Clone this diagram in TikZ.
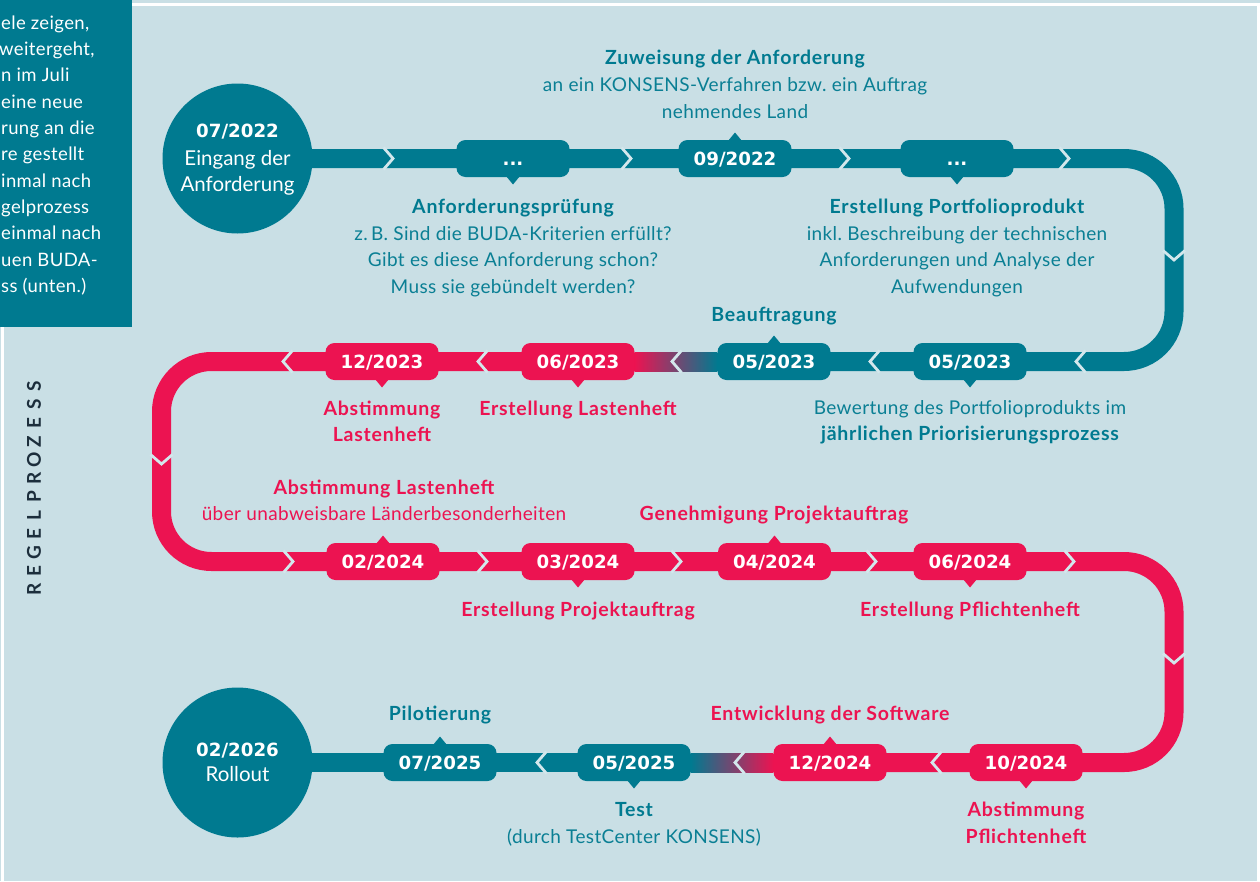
\documentclass[tikz,border=0pt]{standalone}
\usepackage{fontspec}
\setmainfont{Lato}
\newfontfamily\dfont{DejaVu Sans}
\newfontfamily\hfont[LetterSpace=4]{Lato}
\newfontfamily\bfont[LetterSpace=2]{Lato}
\frenchspacing
\pgfdeclarelayer{back}
\pgfdeclarelayer{track}
\pgfsetlayers{back,track,main}
\definecolor{bgc}{HTML}{C9DFE5}
\definecolor{chevc}{HTML}{D3E7EC}
\definecolor{tealc}{HTML}{007A90}
\definecolor{pinkc}{HTML}{EC1351}
\definecolor{tealtx}{HTML}{0A7F94}
\definecolor{navy}{HTML}{1C2E3C}
\tikzset{
  datebox/.style={rectangle, rounded corners=9pt, minimum width=113pt, minimum height=37pt,
    inner sep=0pt, text height=13.2pt, text depth=0pt, text=white,
    font=\dfont\bfseries\fontsize{18.2}{20}\selectfont},
  trk/.style={line width=19pt, line cap=butt},
  chev/.style={draw=chevc, line width=2.8pt},
  hdT/.style={anchor=base, text=tealc, font=\hfont\bfseries\fontsize{19.5}{22}\selectfont, inner sep=0pt},
  txT/.style={anchor=base, text=tealtx, font=\bfont\fontsize{19}{22}\selectfont, inner sep=0pt},
  hdP/.style={anchor=base, text=pinkc, font=\hfont\bfseries\fontsize{19.5}{22}\selectfont, inner sep=0pt},
  txP/.style={anchor=base, text=pinkc, font=\bfont\fontsize{19}{22}\selectfont, inner sep=0pt},
  cdate/.style={anchor=base, text=white, font=\dfont\bfseries\fontsize{18.2}{20}\selectfont, inner sep=0pt},
  ctext/.style={anchor=base, text=white, font=\fontsize{20.5}{24}\selectfont, inner sep=0pt},
  sidetxt/.style={anchor=base west, text=white, font=\bfont\fontsize{18.5}{22}\selectfont, inner sep=0pt},
  rpl/.style={rotate=90, text=navy, font=\bfseries\fontsize{19}{20}\selectfont, inner sep=0pt},
}
\newcommand\mkbox[6]{%
  \node[datebox, fill=#5] (#1) at (#2,#3) {#4};
  \fill[#5] ({#2-7},{#3+17.5*(#6)}) -- ({#2},{#3+26*(#6)}) -- ({#2+7},{#3+17.5*(#6)}) -- cycle;
}
\newcommand\chR[2]{\draw[chev] ({#1-9.5},{#2-11}) -- (#1,#2) -- ({#1-9.5},{#2+11});}
\newcommand\chL[2]{\draw[chev] ({#1+9.5},{#2-11}) -- (#1,#2) -- ({#1+9.5},{#2+11});}
\newcommand\chD[2]{\draw[chev] ({#1-11},{#2-9.5}) -- (#1,#2) -- ({#1+11},{#2-9.5});}
\begin{document}
\begin{tikzpicture}[x=1pt,y=-1pt]
\useasboundingbox (0,0) rectangle (1260,881);
\begin{pgfonlayer}{back}
  \fill[bgc] (0,0) rectangle (1260,881);
  \draw[white, line width=3pt] (132,4.5) -- (1260,4.5);
  \draw[white, line width=2.5pt] (1258.7,4.5) -- (1258.7,881);
  \draw[white, line width=2.5pt] (2.7,327) -- (2.7,881);
  \fill[tealc] (0,0) rectangle (132,327);
\end{pgfonlayer}

% side text (cut off on the left)
\node[sidetxt] (s1) at (1,29.3) {ele zeigen,};
\node[sidetxt] (s2) at (-1,55.6) {weitergeht,};
\node[sidetxt] (s3) at (1,81.9) {n im Juli};
\node[sidetxt] (s4) at (1,108.2) {eine neue};
\node[sidetxt] (s5) at (1,134.5) {rung an die};
\node[sidetxt] (s6) at (1,160.8) {re gestellt};
\node[sidetxt] (s7) at (1,187.1) {inmal nach};
\node[sidetxt] (s8) at (1,213.4) {gelprozess};
\node[sidetxt] (s9) at (1,239.7) {einmal nach};
\node[sidetxt] (s10) at (1,266.0) {uen BUDA-};
\node[sidetxt] (s11) at (1,292.3) {ss (unten.)};

% REGELPROZESS
\foreach \l [count=\i from 0] in {R,E,G,E,L,P,R,O,Z,E,S,S}
  \node[rpl] (rp\i) at (34,{589.5-18.5*\i}) {\l};

% circles
\node[circle, fill=tealc, minimum size=150pt, inner sep=0pt] (c1) at (237.5,158.5) {};
\node[cdate] (c1a) at (237.5,137.7) {07/2022};
\node[ctext] (c1b) at (237.5,165) {Eingang der};
\node[ctext] (c1c) at (237.5,191.7) {Anforderung};
\node[circle, fill=tealc, minimum size=150pt, inner sep=0pt] (c2) at (237.5,762.5) {};
\node[cdate] (c2a) at (237.5,756) {02/2026};
\node[ctext] (c2b) at (237.5,781.7) {Rollout};

% date boxes
\mkbox{bd1}{513}{158.5}{...}{tealc}{1}
\mkbox{b0922}{735}{158.5}{09/2022}{tealc}{-1}
\mkbox{bd2}{957}{158.5}{...}{tealc}{1}
\mkbox{b0523b}{970}{361.5}{05/2023}{tealc}{1}
\mkbox{b0523a}{774}{361.5}{05/2023}{tealc}{-1}
\mkbox{b0623}{578}{361.5}{06/2023}{pinkc}{1}
\mkbox{b1223}{382}{361.5}{12/2023}{pinkc}{1}
\mkbox{b0224}{383}{561.5}{02/2024}{pinkc}{-1}
\mkbox{b0324}{578}{561.5}{03/2024}{pinkc}{1}
\mkbox{b0424}{774.5}{561.5}{04/2024}{pinkc}{-1}
\mkbox{b0624}{970}{561.5}{06/2024}{pinkc}{1}
\mkbox{b1024}{1026}{762.5}{10/2024}{pinkc}{1}
\mkbox{b1224}{830}{762.5}{12/2024}{pinkc}{-1}
\mkbox{b0525}{634}{762.5}{05/2025}{tealc}{1}
\mkbox{b0725}{440}{762.5}{07/2025}{tealc}{-1}

% corner coordinates
\coordinate (k1) at (1174,158.5);
\coordinate (k2) at (1174,361.5);
\coordinate (k3) at (161.5,361.5);
\coordinate (k4) at (161.5,561.5);
\coordinate (k5) at (1174,561.5);
\coordinate (k6) at (1174,762.5);

\begin{pgfonlayer}{track}
  \draw[trk, tealc, rounded corners=50pt] (c1.center) -- (k1) -- (k2) -- (b0523a.center);
  \draw[trk, pinkc, rounded corners=50pt] (b0623.center) -- (k3) -- (k4) -- (k5) -- (k6) -- (b1224.center);
  \draw[trk, tealc] (b0525.center) -- (c2.center);
  \shade[left color=pinkc, right color=tealc] ([yshift=9.5pt]b0623.east) rectangle ([yshift=-9.5pt]b0523a.west);
  \shade[left color=tealc, right color=pinkc] ([yshift=9.5pt]b0525.east) rectangle ([yshift=-9.5pt]b1224.west);
  % chevrons
  \chR{393}{158.5}\chR{631}{158.5}\chR{849}{158.5}\chR{1069}{158.5}
  \chD{1174}{260}
  \chL{1076}{361.5}\chL{870}{361.5}\chL{672}{361.5}\chL{478}{361.5}\chL{283}{361.5}
  \chD{161.5}{464}
  \chR{293}{561.5}\chR{487}{561.5}\chR{681}{561.5}\chR{876}{561.5}\chR{1074}{561.5}
  \chD{1174}{663}
  \chL{932}{762.5}\chL{735}{762.5}\chL{537}{762.5}
\end{pgfonlayer}

% labels row 1
\node[hdT] (z1) at (735,64.5) {Zuweisung der Anforderung};
\node[txT] (z2) at (735,91.3) {an ein KONSENS-Verfahren bzw. ein Auftrag};
\node[txT] (z3) at (735,118) {nehmendes Land};
\node[hdT] (a1) at (513,213.5) {Anforderungsprüfung};
\node[txT] (a2) at (513,240.2) {z.\,B. Sind die BUDA-Kriterien erfüllt?};
\node[txT] (a3) at (513,266.9) {Gibt es diese Anforderung schon?};
\node[txT] (a4) at (513,293.5) {Muss sie gebündelt werden?};
\node[hdT] (p1) at (957,213.5) {Erstellung Portfolioprodukt};
\node[txT] (p2) at (957,240.2) {inkl. Beschreibung der technischen};
\node[txT] (p3) at (957,266.9) {Anforderungen und Analyse der};
\node[txT] (p4) at (957,293.5) {Aufwendungen};
% row 2
\node[hdT] (bf1) at (774,321.7) {Beauftragung};
\node[txT] (bw1) at (970,414) {Bewertung des Portfolioprodukts im};
\node[hdT] (bw2) at (970,440.5) {jährlichen Priorisierungsprozess};
\node[hdP] (al1) at (382,415) {Abstimmung};
\node[hdP] (al2) at (382,441.7) {Lastenheft};
\node[hdP] (el1) at (578,415) {Erstellung Lastenheft};
% row 3
\node[hdP] (ub1) at (384,494) {Abstimmung Lastenheft};
\node[txP] (ub2) at (384,520.7) {über unabweisbare Länderbesonderheiten};
\node[hdP] (gp1) at (774,520.7) {Genehmigung Projektauftrag};
\node[hdP] (ep1) at (578,616.7) {Erstellung Projektauftrag};
\node[hdP] (ef1) at (970,616.7) {Erstellung Pflichtenheft};
% row 4
\node[hdT] (pi1) at (440,720.7) {Pilotierung};
\node[hdP] (es1) at (830,720.7) {Entwicklung der Software};
\node[hdT] (te1) at (634,816.7) {Test};
\node[txT] (te2) at (634,843.3) {(durch TestCenter KONSENS)};
\node[hdP] (ap1) at (1026,816.7) {Abstimmung};
\node[hdP] (ap2) at (1026,843.3) {Pflichtenheft};
\end{tikzpicture}
\end{document}
